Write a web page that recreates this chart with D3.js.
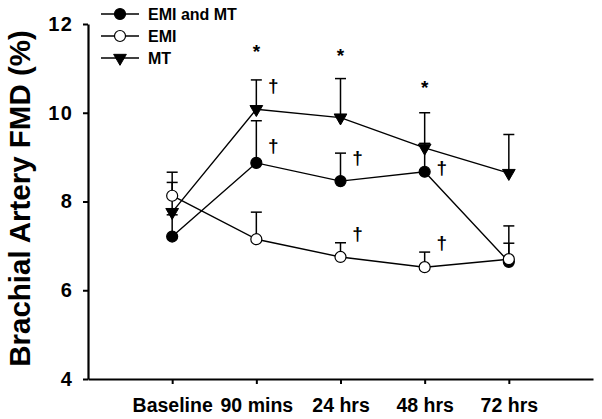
<!DOCTYPE html>
<html>
<head>
<meta charset="utf-8">
<script src="https://cdn.jsdelivr.net/npm/d3@7"></script>
<style>
  body { margin: 0; background: #fff; }
  text { font-family: Arial, "Liberation Sans", sans-serif; font-weight: bold; }
</style>
</head>
<body>
<div id="chart"></div>
<script>
// time points
const categories = ["Baseline", "90 mins", "24 hrs", "48 hrs", "72 hrs"]

// means and upper error bar ends
const emiMt = [7.21, 8.87, 8.46, 8.67, 6.64]
const emiMtErr = [7.70, 9.82, 9.09, 9.31, 7.06]
const emi = [8.13, 7.15, 6.75, 6.52, 6.70]
const emiErr = [8.66, 7.76, 7.07, 6.86, 7.45]
const mt = [7.76, 10.08, 9.89, 9.21, 8.64]
const mtErr = [8.43, 10.74, 10.77, 10.0, 9.51]

const yTicks = [4, 6, 8, 10, 12]

// significance marks: [category index, value at glyph centre]
const stars = [[1, 11.46], [2, 11.39], [3, 10.65]]
const daggers = [[1, 10.63], [1, 9.27], [2, 9.0], [2, 7.29], [3, 8.78], [3, 7.09]]

const series = [
  { name: "EMI and MT", values: emiMt, err: emiMtErr, shape: "circle", fill: "#000" },
  { name: "EMI", values: emi, err: emiErr, shape: "circle", fill: "#fff" },
  { name: "MT", values: mt, err: mtErr, shape: "triangle", fill: "#000" },
]

const width = 602, height = 419
const margin = { top: 24, right: 9, bottom: 40, left: 88 }

const svg = d3.select("#chart")
  .append("svg")
  .attr("width", width)
  .attr("height", height)

const x = d3.scaleLinear()
  .domain([-1, categories.length])
  .range([margin.left, width - margin.right])

const y = d3.scaleLinear()
  .domain([4, 12])
  .range([height - margin.bottom, margin.top])

// axes
const yAxis = svg.append("g")
  .attr("transform", `translate(${margin.left},0)`)
  .call(d3.axisLeft(y).tickValues(yTicks).tickSize(5).tickSizeOuter(0).tickPadding(10))
yAxis.selectAll("text")
  .style("font-size", "20px")
  .style("letter-spacing", "1.2px")
  .attr("fill", "#000")

const xAxis = svg.append("g")
  .attr("transform", `translate(0,${height - margin.bottom})`)
  .call(d3.axisBottom(x).tickValues(d3.range(categories.length))
    .tickFormat(i => categories[i]).tickSize(5).tickSizeOuter(0).tickPadding(14))
xAxis.selectAll("text").style("font-size", "19.5px").attr("fill", "#000")

svg.selectAll(".domain").attr("stroke", "#000").attr("stroke-width", 2.2)
svg.selectAll(".tick line").attr("stroke", "#000").attr("stroke-width", 2)

// y label
svg.append("text")
  .attr("transform", `translate(30,${(margin.top + height - margin.bottom) / 2 - 3}) rotate(-90)`)
  .attr("text-anchor", "middle")
  .style("font-size", "29.5px")
  .text("Brachial Artery FMD (%)")

const line = d3.line()
  .x((d, i) => x(i))
  .y(d => y(d))

const triangle = d3.symbol().type(d3.symbolTriangle).size(70)

function drawMarker(g, s) {
  if (s.shape === "circle") {
    g.append("circle").attr("r", 5.5)
      .attr("fill", s.fill).attr("stroke", "#000").attr("stroke-width", 1.2)
  } else {
    g.append("path").attr("d", triangle).attr("transform", "rotate(180)")
      .attr("fill", s.fill).attr("stroke", "#000").attr("stroke-width", 1)
  }
}

// error bars (upper only)
series.forEach(s => {
  const eb = svg.append("g")
  eb.selectAll("line.v")
    .data(s.err)
    .join("line")
    .attr("x1", (d, i) => x(i)).attr("x2", (d, i) => x(i))
    .attr("y1", (d, i) => y(s.values[i])).attr("y2", d => y(d))
    .attr("stroke", "#000").attr("stroke-width", 1.5)
  eb.selectAll("line.c")
    .data(s.err)
    .join("line")
    .attr("x1", (d, i) => x(i) - 5.5).attr("x2", (d, i) => x(i) + 5.5)
    .attr("y1", d => y(d)).attr("y2", d => y(d))
    .attr("stroke", "#000").attr("stroke-width", 1.5)
})

// lines
series.forEach(s => {
  svg.append("path")
    .datum(s.values)
    .attr("d", line)
    .attr("fill", "none")
    .attr("stroke", "#000")
    .attr("stroke-width", 1.4)
})

// markers
series.forEach(s => {
  svg.append("g").selectAll("g")
    .data(s.values)
    .join("g")
    .attr("transform", (d, i) => `translate(${x(i)},${y(d)})`)
    .each(function () { drawMarker(d3.select(this), s) })
})

// significance marks
svg.selectAll("text.star")
  .data(stars)
  .join("text")
  .attr("class", "star")
  .attr("x", d => x(d[0]))
  .attr("y", d => y(d[1]))
  .attr("dy", "0.55em")
  .attr("text-anchor", "middle")
  .style("font-size", "19px")
  .text("*")

svg.selectAll("text.dagger")
  .data(daggers)
  .join("text")
  .attr("class", "dagger")
  .attr("x", d => x(d[0]) + 17)
  .attr("y", d => y(d[1]))
  .attr("dy", "0.36em")
  .attr("text-anchor", "middle")
  .style("font-size", "19px")
  .text("\u2020")

// legend
const legend = svg.append("g")
  .attr("transform", "translate(101,14)")
series.forEach((s, i) => {
  const row = legend.append("g").attr("transform", `translate(0,${i * 22})`)
  row.append("line").attr("x1", 0).attr("x2", 38)
    .attr("stroke", "#000").attr("stroke-width", 1.4)
  drawMarker(row.append("g").attr("transform", "translate(19,0)"), s)
  row.append("text").attr("x", 47).attr("dy", "0.36em")
    .style("font-size", "16px")
    .text(s.name)
})
</script>
</body>
</html>
